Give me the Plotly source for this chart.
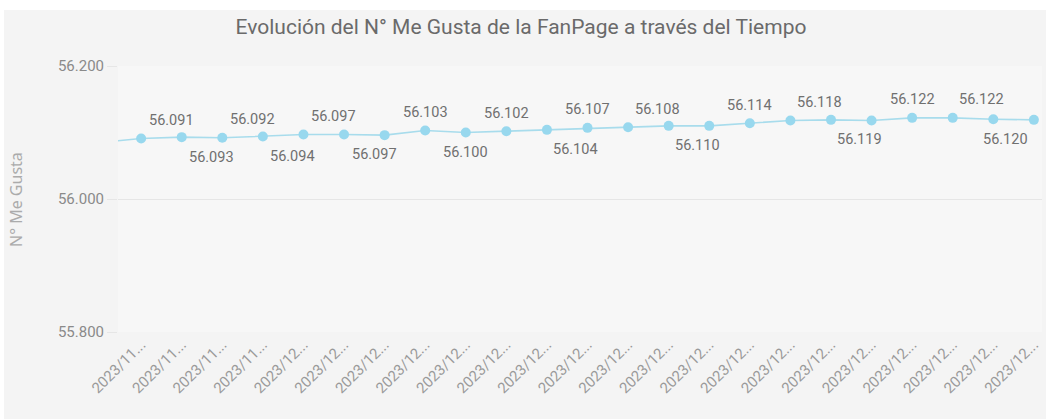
import plotly.graph_objects as go

# ---------------- data ----------------
dates = ["2023/11...", "2023/11...", "2023/11...", "2023/11...",
         "2023/12...", "2023/12...", "2023/12...", "2023/12...", "2023/12...",
         "2023/12...", "2023/12...", "2023/12...", "2023/12...", "2023/12...",
         "2023/12...", "2023/12...", "2023/12...", "2023/12...", "2023/12...",
         "2023/12...", "2023/12...", "2023/12...", "2023/12..."]
likes = [56091, 56093, 56092, 56094, 56097, 56097, 56096, 56103, 56100, 56102,
         56104, 56107, 56108, 56110, 56110, 56114, 56118, 56119, 56118, 56122,
         56122, 56120, 56119]
previous_likes = 56085  # value just before the visible window (line enters from the left)
label_shown = [True, True, True, True, True, True, False, True, True, True,
               True, True, True, True, False, True, True, True, False, True,
               True, True, False]
y_ticks = [55800, 56000, 56200]

# ---------------- label styling (placement only) ----------------
label_above = [True, False, True, False, True, False, True, True, False, True,
               False, True, True, False, True, True, True, False, True, True,
               True, False, True]
label_xshift = [30, 30, 30, 30, 30, 30, 0, 0, 0, 0,
                29, 0, 29, 29, 0, 0, 29, 29, 0, 0,
                29, 12, 0]

# ---------------- figure ----------------
idx = list(range(len(likes)))

FONT = "Roboto, Liberation Sans, sans-serif"
LINE = "#a8dcec"
MARK = "#98d8ee"

fig = go.Figure()
fig.add_trace(go.Scatter(
    x=[-1, 0], y=[previous_likes, likes[0]], mode="lines",
    line=dict(color=LINE, width=1.6), hoverinfo="skip", showlegend=False))
fig.add_trace(go.Scatter(
    x=idx, y=likes, mode="lines+markers",
    line=dict(color=LINE, width=1.6),
    marker=dict(color=MARK, size=10),
    showlegend=False, cliponaxis=False))

annotations = []
for i, v, s, a, dx in zip(idx, likes, label_shown, label_above, label_xshift):
    if not s:
        continue
    annotations.append(dict(
        x=i, y=v, xref="x", yref="y", showarrow=False,
        text=f"{v:,}".replace(",", "."),
        xshift=dx, yshift=18 if a else -20,
        xanchor="center", yanchor="middle",
        font=dict(family=FONT, size=14.5, color="#707070")))

W, H = 1046, 419
ml, mr, mt, mb = 118, 4, 66, 87
ph = H - mt - mb
pw = W - ml - mr

annotations.append(dict(
    text="N° Me Gusta", textangle=-90, showarrow=False,
    xref="paper", yref="paper", x=-(ml - 16) / pw, y=(332 - 200) / ph,
    xanchor="center", yanchor="middle",
    font=dict(family="Noto Sans, sans-serif", size=16, color="#ababab")))

fig.update_layout(
    width=W, height=H,
    margin=dict(l=ml, r=mr, t=mt, b=mb, autoexpand=False),
    paper_bgcolor="#f4f4f4", plot_bgcolor="#f7f7f7",
    separators=",.",
    title=dict(text="Evolución del N° Me Gusta de la FanPage a través del Tiempo",
               x=521 / W, xref="container", xanchor="center",
               y=1 - 27 / H, yref="container", yanchor="middle",
               font=dict(family=FONT, size=21, color="#6a6a6a")),
    xaxis=dict(range=[-0.57, 22.2], tickmode="array", tickvals=idx, ticktext=dates,
               tickangle=-45, showgrid=False, zeroline=False, showline=False,
               automargin=False,
               tickfont=dict(family=FONT, size=15, color="#9a9a9a")),
    yaxis=dict(range=[55800, 56200], tickmode="array", tickvals=y_ticks,
               tickformat=",d", showgrid=True, gridcolor="#e6e6e6", gridwidth=1,
               zeroline=False, showline=False, automargin=False,
               ticks="outside", ticklen=10, tickcolor="#e6e6e6",
               tickfont=dict(family=FONT, size=15, color="#8a8a8a")),
    font=dict(family=FONT),
    annotations=annotations,
    shapes=[
        dict(type="rect", xref="paper", yref="paper", layer="below",
             x0=-ml / pw, x1=1 + mr / pw, y0=1 + (mt - 10) / ph, y1=1 + mt / ph,
             fillcolor="white", line=dict(width=0)),
        dict(type="rect", xref="paper", yref="paper", layer="below",
             x0=-ml / pw, x1=-(ml - 4) / pw, y0=-mb / ph, y1=1 + mt / ph,
             fillcolor="white", line=dict(width=0)),
    ],
)

fig.write_html("out.html",
               config={"displayModeBar": False},
               post_script="document.body.style.margin='0';document.body.style.overflow='hidden';")
